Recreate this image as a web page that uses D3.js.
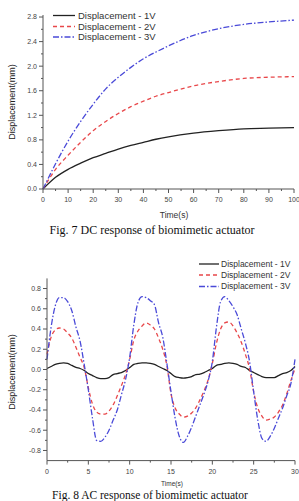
<!DOCTYPE html>
<html><head><meta charset="utf-8">
<script src="https://cdn.jsdelivr.net/npm/d3@7"></script>
<style>body{margin:0;background:#fff}svg{display:block}</style>
</head><body>
<script>
// ---- Fig. 7 DC response data ----
const dcTime = [0,5,10,15,20,25,30,35,40,45,50,60,70,80,90,100];
const dc1V = [0,0.19,0.32,0.42,0.51,0.58,0.65,0.71,0.76,0.81,0.85,0.91,0.95,0.98,0.99,1.00];
const dc2V = [0,0.32,0.55,0.76,0.95,1.10,1.23,1.34,1.43,1.51,1.57,1.68,1.75,1.80,1.82,1.83];
const dc3V = [0,0.41,0.78,1.10,1.38,1.63,1.82,1.98,2.12,2.23,2.33,2.50,2.61,2.68,2.72,2.75];
const dcXTicks = [0,10,20,30,40,50,60,70,80,90,100];
const dcYTicks = [0,0.4,0.8,1.2,1.6,2.0,2.4,2.8];

// ---- Fig. 8 AC response data (0.5 s steps) ----
const acTime = d3.range(0, 30.01, 0.5);
const ac1V = [0.01,0.03,0.05,0.06,0.065,0.06,0.04,0.02,0.01,-0.01,-0.04,-0.06,-0.08,-0.09,-0.09,-0.08,-0.05,-0.04,-0.03,-0.01,
  0.02,0.05,0.06,0.065,0.065,0.06,0.05,0.03,0.01,-0.01,-0.04,-0.07,-0.08,-0.085,-0.08,-0.07,-0.05,-0.045,-0.03,-0.01,
  0.01,0.04,0.05,0.06,0.065,0.06,0.05,0.03,0.02,-0.01,-0.03,-0.05,-0.07,-0.08,-0.08,-0.08,-0.06,-0.04,-0.03,-0.01,0.03];
const ac2V = [0.15,0.32,0.39,0.41,0.40,0.36,0.31,0.22,0.12,0.02,-0.18,-0.34,-0.42,-0.44,-0.44,-0.41,-0.35,-0.26,-0.16,-0.05,
  0.10,0.29,0.38,0.43,0.46,0.44,0.40,0.31,0.20,0.04,-0.24,-0.38,-0.44,-0.47,-0.46,-0.43,-0.38,-0.30,-0.21,-0.10,
  0.06,0.26,0.40,0.46,0.47,0.43,0.36,0.27,0.15,0.01,-0.22,-0.38,-0.46,-0.50,-0.49,-0.47,-0.42,-0.35,-0.24,-0.11,0.01];
const ac3V = [0.10,0.42,0.63,0.71,0.71,0.67,0.58,0.42,0.28,0.05,-0.20,-0.48,-0.70,-0.71,-0.67,-0.60,-0.50,-0.40,-0.25,-0.10,
  0.12,0.44,0.66,0.72,0.71,0.68,0.64,0.46,0.32,0.06,-0.22,-0.48,-0.66,-0.72,-0.66,-0.57,-0.46,-0.35,-0.24,-0.11,
  0.08,0.42,0.67,0.72,0.68,0.62,0.54,0.40,0.26,0.08,-0.22,-0.50,-0.68,-0.71,-0.66,-0.58,-0.48,-0.38,-0.26,-0.14,0.10];
const acXTicks = [0,5,10,15,20,25,30];
const acYTicks = [-0.8,-0.6,-0.4,-0.2,0.0,0.2,0.4,0.6,0.8];

const seriesNames = ["Displacement - 1V","Displacement - 2V","Displacement - 3V"];
const colors = ["#222222","#e8474a","#4a4ad8"];
const dashes = [null,"4,3","6,2,1.5,2"];

const W = 299, H = 501;
const svg = d3.select("body").append("svg").attr("width",W).attr("height",H);
const axisColor = "#555", textColor = "#444";

function drawAxes(x, y, xTicks, yTicks, xMinor, yMinor, yFmt, labelFont){
  const g = svg.append("g");
  const [x0,x1] = x.range(), [y0,y1] = y.range();
  g.append("line").attr("x1",x0).attr("x2",x0).attr("y1",y0).attr("y2",y1).attr("stroke",axisColor).attr("stroke-width",1);
  g.append("line").attr("x1",x0).attr("x2",x1).attr("y1",y0).attr("y2",y0).attr("stroke",axisColor).attr("stroke-width",1);
  yMinor.forEach(v=>g.append("line").attr("x1",x0).attr("x2",x0-2).attr("y1",y(v)).attr("y2",y(v)).attr("stroke",axisColor));
  yTicks.forEach(v=>{
    g.append("line").attr("x1",x0).attr("x2",x0-4).attr("y1",y(v)).attr("y2",y(v)).attr("stroke",axisColor);
    g.append("text").attr("x",x0-6).attr("y",y(v)).attr("dy","0.35em").attr("text-anchor","end")
      .attr("font-family","Liberation Sans, Arial, sans-serif").attr("font-size",labelFont).attr("fill",textColor).text(yFmt(v));
  });
  xMinor.forEach(v=>g.append("line").attr("x1",x(v)).attr("x2",x(v)).attr("y1",y0).attr("y2",y0+2).attr("stroke",axisColor));
  xTicks.forEach(v=>{
    g.append("line").attr("x1",x(v)).attr("x2",x(v)).attr("y1",y0).attr("y2",y0+4).attr("stroke",axisColor);
    g.append("text").attr("x",x(v)).attr("y",y0+11).attr("dy","0.35em").attr("text-anchor","middle")
      .attr("font-family","Liberation Sans, Arial, sans-serif").attr("font-size",labelFont).attr("fill",textColor).text(v);
  });
}

function drawLines(x, y, t, arrs){
  arrs.forEach((a,i)=>{
    const line = d3.line().x((d,j)=>x(t[j])).y(d=>y(d)).curve(d3.curveMonotoneX);
    svg.append("path").datum(a).attr("d",line).attr("fill","none").attr("stroke",colors[i])
      .attr("stroke-width",1.3).attr("stroke-dasharray",dashes[i]);
  });
}

function drawLegend(lx0, lx1, tx, ys, fs){
  seriesNames.forEach((n,i)=>{
    svg.append("line").attr("x1",lx0).attr("x2",lx1).attr("y1",ys[i]).attr("y2",ys[i])
      .attr("stroke",colors[i]).attr("stroke-width",1.3).attr("stroke-dasharray",dashes[i]);
    svg.append("text").attr("x",tx).attr("y",ys[i]).attr("dy","0.35em").attr("font-family","Liberation Sans, Arial, sans-serif")
      .attr("font-size",fs).attr("fill","#333").text(n);
  });
}

// ---- Top chart ----
const x1 = d3.scaleLinear().domain([0,100]).range([43,294]);
const y1 = d3.scaleLinear().domain([0,2.833]).range([189,15]);
drawLines(x1, y1, dcTime, [dc1V, dc2V, dc3V]);
drawAxes(x1, y1, dcXTicks, dcYTicks, d3.range(5,100,10), d3.range(0.2,2.81,0.4), d=>d.toFixed(1), 7);
drawLegend(53, 75, 78, [15.5,26.5,37], 9.5);
svg.append("text").attr("x",174).attr("y",215).attr("dy","0.35em").attr("text-anchor","middle")
  .attr("font-family","Liberation Sans, Arial, sans-serif").attr("font-size",8.5).attr("fill","#333").text("Time(s)");
svg.append("text").attr("transform","translate(12,102) rotate(-90)").attr("dy","0.35em").attr("text-anchor","middle")
  .attr("font-family","Liberation Sans, Arial, sans-serif").attr("font-size",9).attr("fill","#222").text("Displacement(mm)");
svg.append("text").attr("x",152).attr("y",234).attr("text-anchor","middle")
  .attr("font-family","Liberation Serif, Times New Roman, serif").attr("font-size",12).attr("fill","#111").text("Fig. 7 DC response of biomimetic actuator");

// ---- Bottom chart ----
const x2 = d3.scaleLinear().domain([0,30]).range([47,295]);
const y2 = d3.scaleLinear().domain([-0.9,0.9]).range([460.6,278.4]);
drawLines(x2, y2, acTime, [ac1V, ac2V, ac3V]);
drawAxes(x2, y2, acXTicks, acYTicks, d3.range(2.5,30,5), d3.range(-0.7,0.71,0.2), d=>d.toFixed(1), 7);
drawLegend(199, 219, 221, [264,275,286.5], 8.5);
svg.append("text").attr("x",172).attr("y",483.5).attr("dy","0.35em").attr("text-anchor","middle")
  .attr("font-family","Liberation Sans, Arial, sans-serif").attr("font-size",6.5).attr("fill","#333").text("Time(s)");
svg.append("text").attr("transform","translate(12,372) rotate(-90)").attr("dy","0.35em").attr("text-anchor","middle")
  .attr("font-family","Liberation Sans, Arial, sans-serif").attr("font-size",9).attr("fill","#222").text("Displacement(mm)");
svg.append("text").attr("x",150).attr("y",498.5).attr("text-anchor","middle")
  .attr("font-family","Liberation Serif, Times New Roman, serif").attr("font-size",11.5).attr("fill","#111").text("Fig. 8 AC response of biomimetic actuator");
</script>
</body></html>
